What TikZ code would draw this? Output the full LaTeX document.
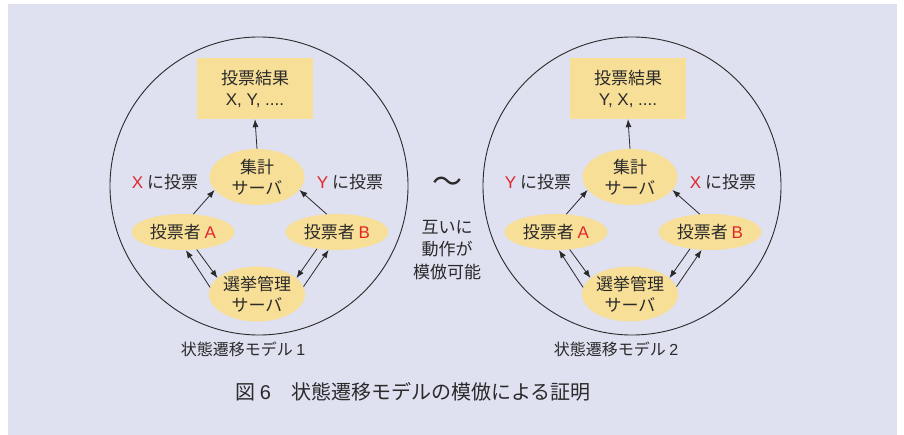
\documentclass[tikz,border=0pt]{standalone}
\usepackage{fontspec}
\setmainfont{Noto Sans CJK JP}
\newfontfamily\lat{Liberation Sans}
\usetikzlibrary{arrows.meta,shapes.geometric}
\definecolor{bgc}{HTML}{DFE0F0}
\definecolor{nodefill}{HTML}{F8DF98}
\definecolor{txt}{HTML}{2A2A2A}
\definecolor{redtxt}{HTML}{E0252B}
\newcommand{\rd}[1]{\textcolor{redtxt}{\lat #1}}
\tikzset{
  base/.style={text=txt, font=\fontsize{17}{21}\selectfont},
  resbox/.style={base, fill=nodefill, minimum width=116pt, minimum height=61pt, inner sep=0pt, align=center},
  ell/.style={base, ellipse, fill=nodefill, inner sep=0pt, align=center},
  srv/.style={ell, minimum width=95pt, minimum height=56pt},
  voter/.style={ell, minimum width=103pt, minimum height=36pt},
  arr/.style={draw=txt, line width=0.8pt, -{Latex[length=8pt,width=6pt]}},
  ring/.style={draw=txt, line width=0.9pt},
  lbl/.style={base, inner sep=0pt},
  modelcap/.style={text=txt, inner sep=0pt, font=\fontsize{16}{19}\selectfont},
}
\newcommand{\drawmodel}[6]{%
  % #1 x offset, #2 prefix, #3 result, #4 left label, #5 right label, #6 caption
  \begin{scope}[xshift=#1]
    \node[ring, circle, minimum size=298pt, inner sep=0pt] (#2ring) at (259,186) {};
    \node[resbox] (#2res) at (255,88.5) {投票結果\\{\lat #3}};
    \node[srv] (#2agg) at (257,177) {集計\\サーバ};
    \node[voter] (#2A) at (183,232) {投票者 \rd{A}};
    \node[voter] (#2B) at (337,232) {投票者 \rd{B}};
    \node[srv, minimum height=55pt] (#2sel) at (257,294) {選挙管理\\サーバ};
    \node[lbl] (#2ll) at (165,182) {#4};
    \node[lbl] (#2rl) at (350,182) {#5};
    \node[modelcap] (#2cap) at (243,349) {#6};
    \draw[arr] (#2agg.north) -- (#2res.south);
    \draw[arr] (#2A.60) -- (#2agg.197);
    \draw[arr] (#2B.120) -- (#2agg.343);
    \draw[arr] (#2sel.172) -- (#2A.279);
    \draw[arr] (#2A.308) -- (#2sel.158);
    \draw[arr] (#2B.220) -- (#2sel.22);
    \draw[arr] (#2sel.9) -- (#2B.245);
  \end{scope}}
\begin{document}
\begin{tikzpicture}[x=1pt,y=-1pt]
\useasboundingbox (0,0) rectangle (904,435);
\fill[bgc] (8,4) rectangle (897,435);
\drawmodel{0pt}{m1}{X, Y, ....}{\rd{X} に投票}{\rd{Y} に投票}{状態遷移モデル {\lat 1}}
\drawmodel{373pt}{m2}{Y, X, ....}{\rd{Y} に投票}{\rd{X} に投票}{状態遷移モデル {\lat 2}}
\node[lbl, font=\fontsize{30}{30}\selectfont] (tilde) at (447,185) {〜};
\node[lbl, align=center, font=\fontsize{17}{22.5}\selectfont] (mid) at (447,250) {互いに\\動作が\\模倣可能};
\node[lbl, font=\fontsize{20}{24}\selectfont] (title) at (413,392) {図 {\lat 6}\hspace{1em}状態遷移モデルの模倣による証明};
\end{tikzpicture}
\end{document}
